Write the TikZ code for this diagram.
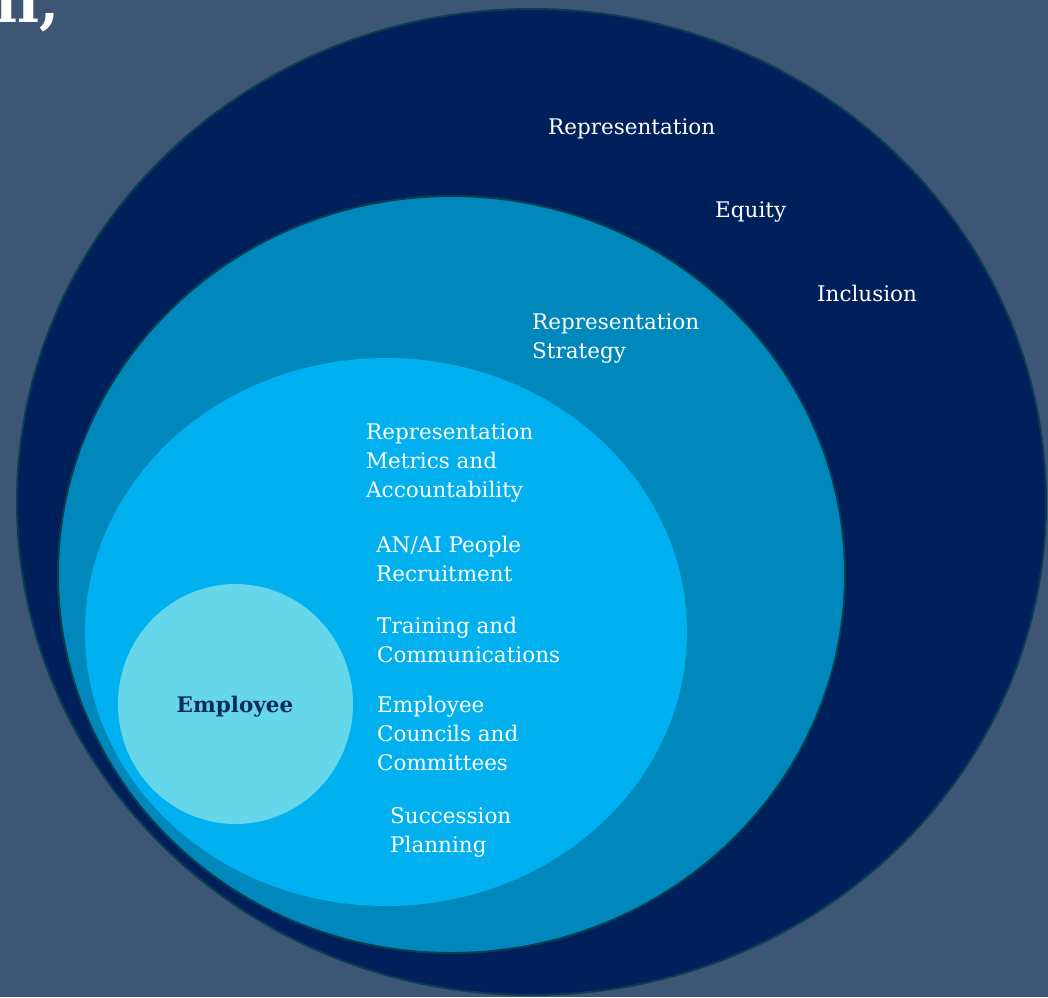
\documentclass[tikz,border=0pt]{standalone}
\usepackage{fontspec}
\setmainfont{DejaVu Serif}
\usetikzlibrary{shapes.geometric}
\definecolor{bgcol}{HTML}{3E5675}
\definecolor{navy}{HTML}{00205C}
\definecolor{teal}{HTML}{0088BC}
\definecolor{bright}{HTML}{00B0EF}
\definecolor{light}{HTML}{66D6EB}
\definecolor{ringcol}{HTML}{0A3D52}
\definecolor{emptext}{HTML}{0D2A5E}
\tikzset{
  ring/.style={ellipse, inner sep=0pt, outer sep=0pt},
  lbl/.style={anchor=base west, align=left, inner sep=0pt, text=white,
    font=\fontsize{21.5}{29}\selectfont},
}
\begin{document}
\begin{tikzpicture}[x=1pt,y=-1pt]
\useasboundingbox (0,0) rectangle (1048,997);
\clip (0,0) rectangle (1048,997);
\fill[bgcol] (0,0) rectangle (1048,997);
\node[anchor=base west, inner sep=0pt, text=white, font=\bfseries\fontsize{58}{58}\selectfont] (frag) at (-5,22) {ll,};
\node[ring, fill=navy, draw=ringcol, line width=2pt, minimum width=1029pt, minimum height=986pt] (outer) at (531.5,502) {};
\node[ring, fill=teal, draw=ringcol, line width=2pt, minimum width=787pt, minimum height=757pt] (mid) at (451.5,574.5) {};
\node[ring, fill=bright, minimum width=602pt, minimum height=548pt] (inner) at (386,632) {};
\node[ring, fill=light, minimum width=235pt, minimum height=240pt] (core) at (235.5,704) {};
\node[text=emptext, font=\bfseries\fontsize{21.5}{29}\selectfont, inner sep=0pt] (emp) at (235,707) {Employee};
\node[lbl] (rep) at (548,134) {Representation};
\node[lbl] (eq) at (715,217) {Equity};
\node[lbl] (inc) at (817,301) {Inclusion};
\node[lbl] (strat) at (532,358) {Representation\\Strategy};
\node[lbl] (metr) at (366,497) {Representation\\Metrics and\\Accountability};
\node[lbl] (recr) at (376,581) {AN/AI People\\Recruitment};
\node[lbl] (train) at (377,662) {Training and\\Communications};
\node[lbl] (coun) at (377,770) {Employee\\Councils and\\Committees};
\node[lbl] (succ) at (390,852) {Succession\\Planning};
\end{tikzpicture}
\end{document}
